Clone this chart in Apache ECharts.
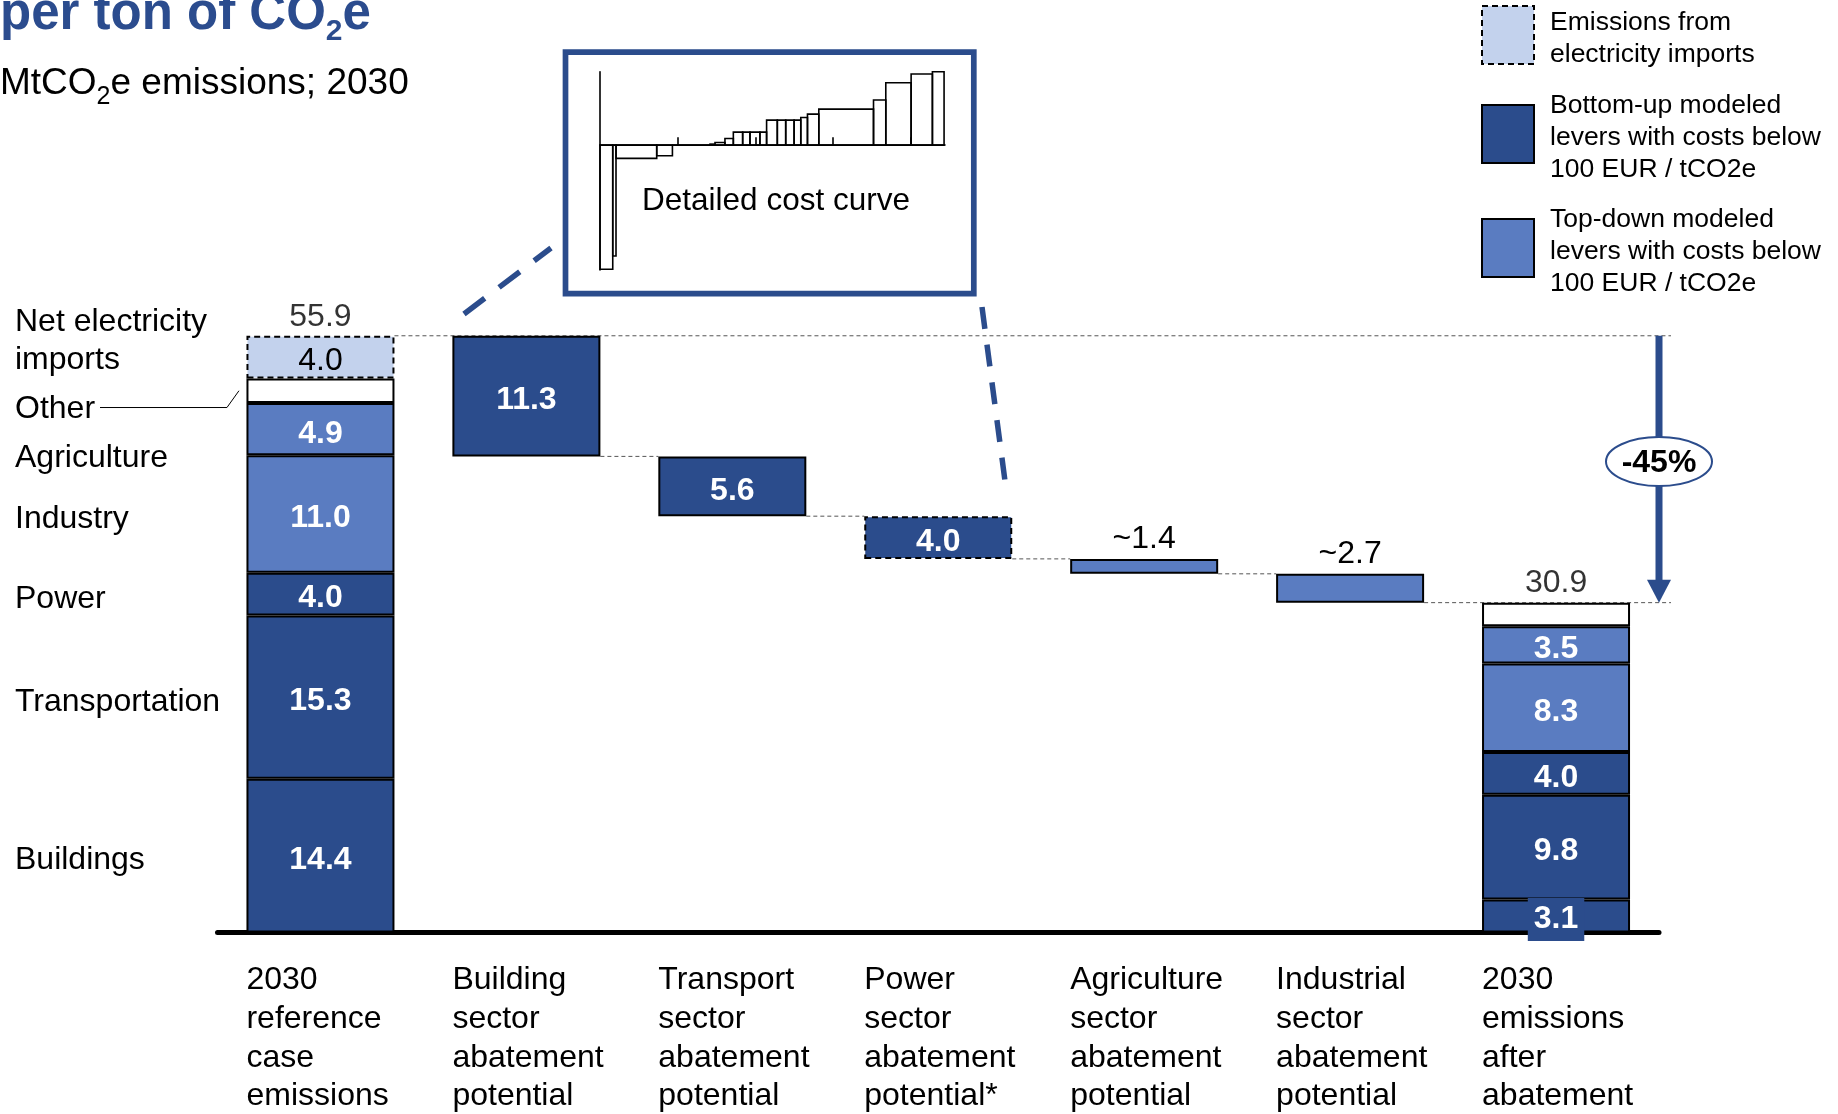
<!DOCTYPE html>
<html>
<head>
<meta charset="utf-8">
<script src="https://cdn.jsdelivr.net/npm/echarts@6/dist/echarts.min.js"></script>
<style>
html,body{margin:0;padding:0;background:#fff;}
#c{width:1838px;height:1114px;}
</style>
</head>
<body>
<div id="c"></div>
<script>
// ---------------- DATA ----------------
const categories = [
  '2030\nreference\ncase\nemissions',
  'Building\nsector\nabatement\npotential',
  'Transport\nsector\nabatement\npotential',
  'Power\nsector\nabatement\npotential*',
  'Agriculture\nsector\nabatement\npotential',
  'Industrial\nsector\nabatement\npotential',
  '2030\nemissions\nafter\nabatement'
];
const sectorNames = ['Buildings', 'Transportation', 'Power', 'Industry', 'Agriculture', 'Other', 'Net electricity\nimports'];
const sectorKinds = ['bottomUp', 'bottomUp', 'bottomUp', 'topDown', 'topDown', 'other', 'imports'];
const referenceValues = [14.4, 15.3, 4.0, 11.0, 4.9, 2.3, 4.0];
const afterValues = [3.1, 9.8, 4.0, 8.3, 3.5, 2.2, null];
const abatementValues = [11.3, 5.6, 4.0, 1.4, 2.7];
const abatementKinds = ['bottomUp', 'bottomUp', 'importsBottomUp', 'topDown', 'topDown'];
const abatementLabels = ['11.3', '5.6', '4.0', '~1.4', '~2.7'];
const totalValues = [55.9, 30.9];
const totalLabels = ['55.9', '30.9'];
const reductionLabel = '-45%';
const legendTexts = [
  'Emissions from\nelectricity imports',
  'Bottom-up modeled\nlevers with costs below\n100 EUR / tCO2e',
  'Top-down modeled\nlevers with costs below\n100 EUR / tCO2e'
];
const legendKinds = ['imports', 'bottomUp', 'topDown'];
// detailed cost curve (inset): lever widths (MtCO2e) and costs (EUR/tCO2e)
const costCurveWidths = [0.82, 0.21, 2.62, 1.01, 2.42, 0.32, 0.64, 0.54, 0.60, 0.47, 0.64, 0.43, 0.69, 0.54, 0.54, 0.43, 0.43, 0.73, 3.52, 0.79, 1.63, 1.37, 0.75];
const costCurveCosts = [-169, -151, -18, -14.5, 0, 1.4, 3.6, 9.1, 17.7, 17.7, 17.7, 17.7, 34.1, 34.1, 34.1, 34.1, 37.7, 42.3, 49.1, 61.4, 85.0, 96.8, 100];
const costCurveTicks = [5, 10, 15, 20];

// ---------------- STYLE ----------------
const FONT = "'Liberation Sans', Arial, Helvetica, sans-serif";
const DARK = '#2b4c8c', MID = '#5a7cc1', LIGHT = '#c3d2ed', TITLE = '#2b4c8e';
const BW = 148;
const TXT_DY = 4.5; // vertical nudge so text centres sit like the reference
const fillOf = k => k === 'bottomUp' || k === 'importsBottomUp' ? DARK : k === 'topDown' ? MID : k === 'imports' ? LIGHT : '#fff';

// ---------------- SERIES ----------------
const last = categories.length - 1;
let running = totalValues[0];
const baseData = categories.map((_, i) => {
  if (i === 0 || i === last) return '-';
  running -= abatementValues[i - 1];
  return +running.toFixed(2);
});

const series = [];
series.push({
  name: 'base', type: 'bar', stack: 'w', barWidth: BW, data: baseData, silent: true,
  itemStyle: { color: 'rgba(0,0,0,0)', borderWidth: 0 }, label: { show: false }
});

sectorNames.forEach((name, s) => {
  const kind = sectorKinds[s];
  const data = categories.map((_, i) => {
    let v;
    if (i === 0) v = referenceValues[s];
    else if (i === last) v = afterValues[s] == null ? '-' : afterValues[s];
    else v = '-';
    if (s === 0 && i === last && v !== '-') {
      return { value: v, label: { backgroundColor: DARK, padding: [9, 6, 2, 6], offset: [0, 3.5] } };
    }
    return v;
  });
  series.push({
    name: name.replace('\n', ' '), type: 'bar', stack: 'w', barWidth: BW, data,
    z: s === 0 ? 3 : 2,
    itemStyle: {
      color: fillOf(kind), borderColor: '#000', borderWidth: 2,
      borderType: kind === 'imports' ? [6, 4] : 'solid'
    },
    label: {
      show: kind !== 'other', position: 'inside', offset: [0, TXT_DY],
      fontFamily: FONT, fontSize: 32,
      fontWeight: kind === 'imports' ? 'normal' : 'bold',
      color: kind === 'imports' ? '#000' : '#fff',
      formatter: p => (+p.value).toFixed(1)
    }
  });
});

series.push({
  name: 'Abatement', type: 'bar', stack: 'w', barWidth: BW,
  data: categories.map((_, i) => {
    if (i === 0 || i === last) return '-';
    const k = abatementKinds[i - 1];
    const top = k === 'topDown';
    return {
      value: abatementValues[i - 1],
      itemStyle: { color: fillOf(k), borderColor: '#000', borderWidth: 2, borderType: k === 'importsBottomUp' ? [6, 4] : 'solid' },
      label: {
        show: true, position: top ? 'top' : 'inside', distance: 4, offset: [0, top ? 0 : TXT_DY],
        fontFamily: FONT, fontSize: 32, fontWeight: top ? 'normal' : 'bold',
        color: top ? '#000' : '#fff', formatter: abatementLabels[i - 1]
      }
    };
  })
});

series.push({
  name: 'Totals', type: 'scatter', symbolSize: 0, silent: true,
  data: [[0, totalValues[0]], [last, totalValues[1]]],
  label: {
    show: true, position: 'top', distance: 3, fontFamily: FONT, fontSize: 32, color: '#000',
    formatter: p => totalLabels[p.dataIndex]
  }
});

// inset cost curve
let cx = 0;
const costData = costCurveWidths.map((w, i) => { const r = [cx, cx + w, costCurveCosts[i]]; cx += w; return r; });
series.push({
  name: 'Cost curve', type: 'custom', xAxisIndex: 1, yAxisIndex: 1, silent: true,
  data: costData, encode: { x: [0, 1], y: 2 },
  renderItem: (params, api) => {
    const p0 = api.coord([api.value(0), api.value(2)]);
    const p1 = api.coord([api.value(1), 0]);
    return {
      type: 'rect',
      shape: { x: p0[0], y: Math.min(p0[1], p1[1]), width: p1[0] - p0[0], height: Math.abs(p1[1] - p0[1]) },
      style: { fill: 'rgba(0,0,0,0)', stroke: '#000', lineWidth: 1.6 }
    };
  }
});

const option = {
  animation: false,
  backgroundColor: '#fff',
  textStyle: { fontFamily: FONT },
  grid: [
    { left: 217.5, right: 179, top: 292, bottom: 181.5, containLabel: false, outerBoundsMode: 'none' },
    { left: 600, top: 71.7, width: 345, height: 198.3, containLabel: false, outerBoundsMode: 'none' }
  ],
  xAxis: [
    {
      type: 'category', gridIndex: 0, data: categories,
      axisTick: { show: false }, splitLine: { show: false },
      axisLine: { show: true, lineStyle: { color: '#000', width: 5, cap: 'round' } },
      axisLabel: {
        interval: 0, margin: 28.5, color: '#000',
        formatter: v => v.split('\n').map(s => '{a|' + s + '}').join('\n'),
        rich: { a: { fontFamily: FONT, fontSize: 32, lineHeight: 38.7, width: BW, align: 'left', color: '#000' } }
      }
    },
    {
      type: 'value', gridIndex: 1, min: 0, max: 22.2, interval: 5,
      axisLine: { show: true, onZero: true, lineStyle: { color: '#000', width: 1.6 } },
      axisTick: { show: true, inside: true, length: 8, customValues: costCurveTicks, lineStyle: { color: '#000', width: 1.6 } },
      axisLabel: { show: false }, splitLine: { show: false }
    }
  ],
  yAxis: [
    { type: 'value', gridIndex: 0, min: 0, max: 60, show: false },
    {
      type: 'value', gridIndex: 1, min: -170, max: 100,
      axisLine: { show: true, onZero: true, lineStyle: { color: '#000', width: 1.6 } },
      axisTick: { show: false }, axisLabel: { show: false }, splitLine: { show: false }
    }
  ],
  series
};

const chart = echarts.init(document.getElementById('c'), null, { renderer: 'canvas' });
chart.setOption(option);

// ---------------- ANNOTATIONS ----------------
const P = (i, v) => chart.convertToPixel({ gridIndex: 0 }, [i, v]);
const band = P(1, 0)[0] - P(0, 0)[0];
const gridRight = P(last, 0)[0] + band / 2;
const barL = i => P(i, 0)[0] - BW / 2;
const barR = i => P(i, 0)[0] + BW / 2;
const Y = v => P(0, v)[1];
const g = [];

// titles (subscript lowered with top padding)
g.push({
  type: 'text', x: 0, y: 15,
  style: {
    text: '{t|per ton of CO}{s|2}{t|e}', align: 'left', verticalAlign: 'middle',
    rich: {
      t: { fontFamily: FONT, fontSize: 51, fontWeight: 'bold', fill: TITLE, lineHeight: 51 },
      s: { fontFamily: FONT, fontSize: 30, fontWeight: 'bold', fill: TITLE, lineHeight: 10, padding: [34, 0, 0, 0] }
    }
  }
});
g.push({
  type: 'text', x: 0, y: 84,
  style: {
    text: '{t|MtCO}{s|2}{t|e emissions; 2030}', align: 'left', verticalAlign: 'middle',
    rich: {
      t: { fontFamily: FONT, fontSize: 37, fill: '#000', lineHeight: 37 },
      s: { fontFamily: FONT, fontSize: 25, fill: '#000', lineHeight: 10, padding: [26, 0, 0, 0] }
    }
  }
});

// legend
const legendY = [6, 105, 219];
legendKinds.forEach((k, j) => {
  g.push({
    type: 'rect', shape: { x: 1482, y: legendY[j], width: 52, height: 58 },
    style: { fill: fillOf(k), stroke: '#000', lineWidth: 2, lineDash: k === 'imports' ? [6, 4] : null }
  });
  g.push({
    type: 'text', x: 1550, y: legendY[j] + 29 + 3.5,
    style: { text: legendTexts[j], fontFamily: FONT, fontSize: 26.5, lineHeight: 32, fill: '#000', align: 'left', verticalAlign: 'middle' }
  });
});

// left sector labels
let cum = 0;
const bounds = referenceValues.map(v => { const b = [cum, cum + v]; cum += v; return b; });
const anchorY = s => {
  const b = bounds[s];
  if (s <= 3) return Y((b[0] + b[1]) / 2) + 5;
  if (s === 4) return Y(b[0]) + 2.5;
  if (s === 5) return Y(b[0]) + 6.5;
  return Y(b[1]) + 5.5;
};
sectorNames.forEach((name, s) => {
  g.push({
    type: 'text', x: 15, y: anchorY(s),
    style: { text: name, fontFamily: FONT, fontSize: 32, lineHeight: 38, fill: '#000', align: 'left', verticalAlign: 'middle' }
  });
});
// leader line for "Other"
{
  const ly = anchorY(5) - 2;
  const my = Y((bounds[5][0] + bounds[5][1]) / 2);
  g.push({
    type: 'polyline',
    shape: { points: [[100, ly], [barL(0) - 19.5, ly], [barL(0) - 7.5, my]] },
    style: { stroke: '#000', lineWidth: 1, fill: null }
  });
}

// waterfall connectors (grey dashed)
const connStyle = { stroke: '#555', lineWidth: 1, lineDash: [4, 3] };
const extEnd = gridRight + 12;
g.push({ type: 'line', shape: { x1: barR(0), y1: Y(totalValues[0]), x2: extEnd, y2: Y(totalValues[0]) }, style: connStyle });
for (let i = 1; i <= 4; i++) {
  const lv = baseData[i];
  g.push({ type: 'line', shape: { x1: barR(i), y1: Y(lv), x2: barL(i + 1), y2: Y(lv) }, style: connStyle });
}
g.push({ type: 'line', shape: { x1: barR(5), y1: Y(totalValues[1]), x2: extEnd, y2: Y(totalValues[1]) }, style: connStyle });

// reduction arrow
{
  const yTop = Y(totalValues[0]);
  const yTip = Y(totalValues[1]);
  const ax = gridRight;
  g.push({ type: 'line', shape: { x1: ax, y1: yTop, x2: ax, y2: yTip - 20 }, style: { stroke: DARK, lineWidth: 7 } });
  g.push({ type: 'polygon', shape: { points: [[ax - 12, yTip - 23], [ax + 12, yTip - 23], [ax, yTip]] }, style: { fill: DARK } });
  const ey = yTop + 0.462 * (yTip - yTop) + 2.5;
  g.push({ type: 'ellipse', shape: { cx: ax, cy: ey, rx: 53, ry: 24.5 }, style: { fill: '#fff', stroke: DARK, lineWidth: 2 } });
  g.push({
    type: 'text', x: ax, y: ey + 2,
    style: { text: reductionLabel, fontFamily: FONT, fontSize: 32, fontWeight: 'bold', fill: '#000', align: 'center', verticalAlign: 'middle' }
  });
}

// inset frame, caption and zoom connectors
g.push({ type: 'rect', shape: { x: 565.5, y: 52.2, width: 408.3, height: 241.5 }, style: { fill: null, stroke: DARK, lineWidth: 5.7 } });
g.push({
  type: 'text', x: 776, y: 201.5,
  style: { text: 'Detailed cost curve', fontFamily: FONT, fontSize: 31.5, fill: '#000', align: 'center', verticalAlign: 'middle' }
});
g.push({ type: 'line', shape: { x1: 464, y1: 314, x2: 551, y2: 248 }, style: { stroke: DARK, lineWidth: 5.5, lineDash: [26, 18] } });
g.push({ type: 'line', shape: { x1: 982, y1: 307, x2: 1005, y2: 481 }, style: { stroke: DARK, lineWidth: 5.5, lineDash: [22, 16] } });

chart.setOption({ graphic: { elements: g } });
</script>
</body>
</html>
